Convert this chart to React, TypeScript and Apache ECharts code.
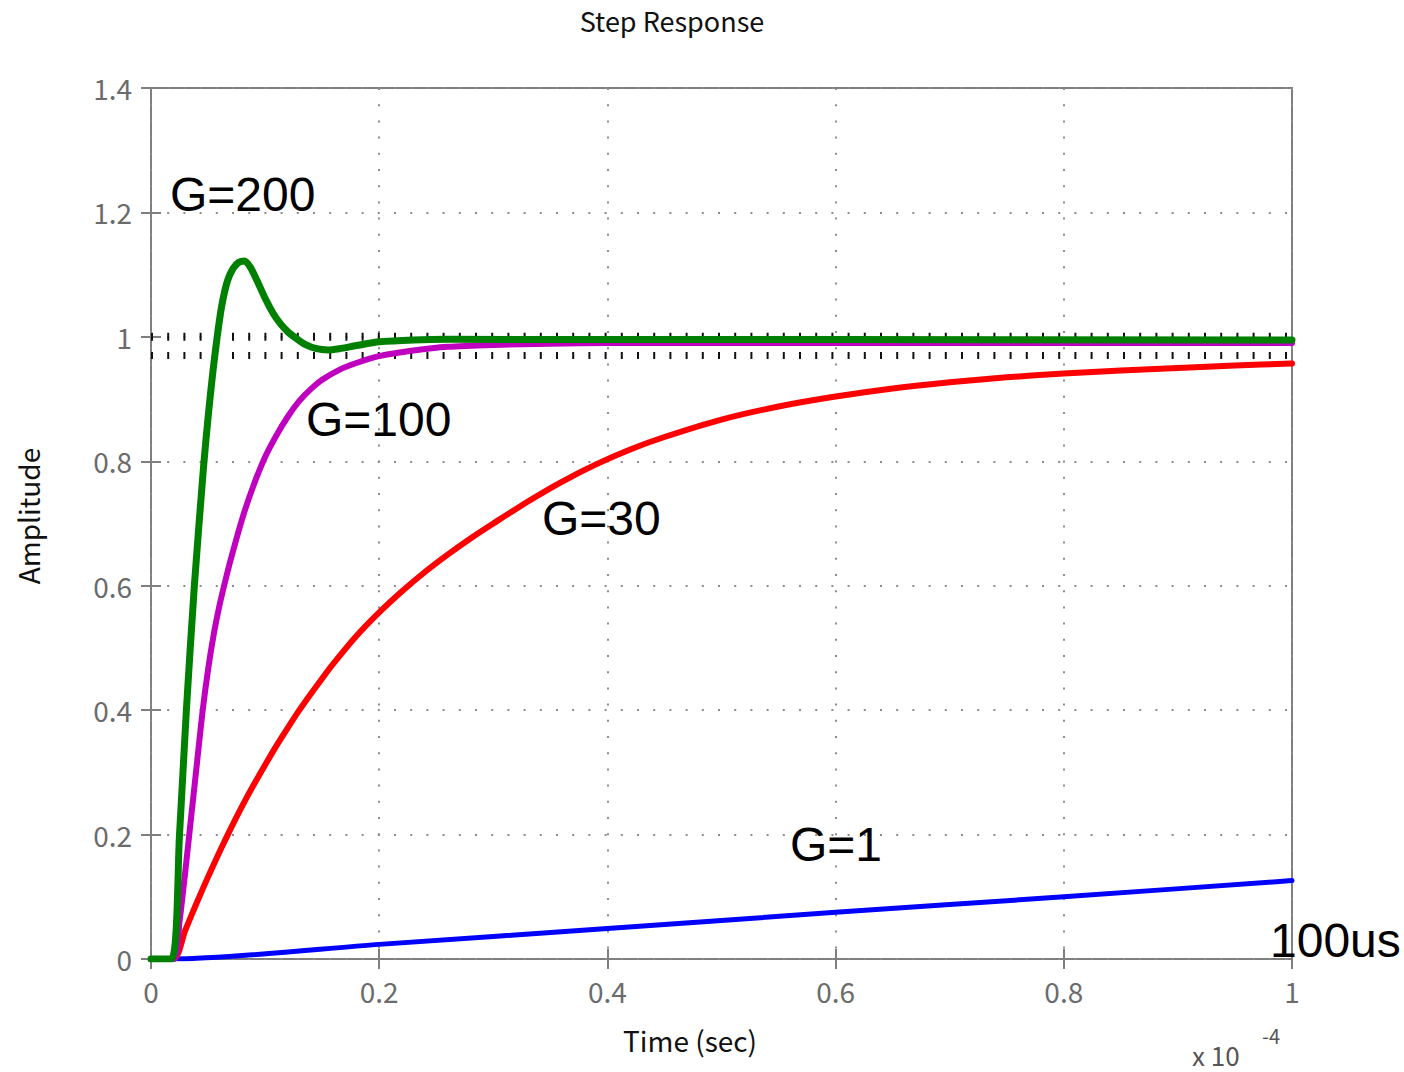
import React, { useEffect, useRef } from "react";
import * as echarts from "echarts";

// ---- data (time in units of 1e-4 s, amplitude) ----
const xTickValues = [0, 0.2, 0.4, 0.6, 0.8, 1];
const yTickValues = [0, 0.2, 0.4, 0.6, 0.8, 1, 1.2, 1.4];

const g1Time = [0, 0.02, 0.2, 0.4, 0.6, 0.8, 1.0];
const g1Amp = [0, 0, 0.0235, 0.049, 0.075, 0.1, 0.126];

const g30Time = [0, 0.02, 0.03, 0.04, 0.05, 0.06, 0.07, 0.08, 0.09, 0.1, 0.11, 0.12, 0.13, 0.14, 0.15, 0.16, 0.18, 0.2, 0.22, 0.24, 0.26, 0.28, 0.3, 0.33, 0.36, 0.39, 0.42, 0.45, 0.5, 0.55, 0.6, 0.65, 0.7, 0.75, 0.8, 0.85, 0.9, 0.95, 1.0];
const g30Amp = [0, 0, 0.046, 0.09, 0.132, 0.172, 0.21, 0.246, 0.28, 0.312, 0.343, 0.372, 0.4, 0.426, 0.451, 0.475, 0.519, 0.557, 0.591, 0.622, 0.65, 0.676, 0.7, 0.735, 0.767, 0.795, 0.819, 0.839, 0.867, 0.888, 0.904, 0.917, 0.927, 0.935, 0.941, 0.946, 0.95, 0.954, 0.957];

const g100Time = [0, 0.02, 0.025, 0.03, 0.035, 0.04, 0.045, 0.05, 0.055, 0.06, 0.065, 0.07, 0.08, 0.09, 0.1, 0.11, 0.12, 0.13, 0.14, 0.15, 0.165, 0.18, 0.2, 0.23, 0.26, 0.3, 0.35, 0.4, 1.0];
const g100Amp = [0, 0, 0.06, 0.14, 0.225, 0.31, 0.395, 0.465, 0.522, 0.568, 0.607, 0.643, 0.708, 0.762, 0.807, 0.842, 0.872, 0.897, 0.916, 0.931, 0.947, 0.958, 0.969, 0.978, 0.984, 0.987, 0.989, 0.99, 0.99];

const g200Time = [0, 0.018, 0.025, 0.031, 0.038, 0.046, 0.05, 0.054, 0.058, 0.062, 0.067, 0.072, 0.077, 0.082, 0.087, 0.093, 0.1, 0.107, 0.113, 0.12, 0.127, 0.135, 0.145, 0.155, 0.165, 0.18, 0.2, 0.23, 0.26, 1.0];
const g200Amp = [0, 0, 0.2, 0.4, 0.6, 0.79, 0.87, 0.94, 1.0, 1.05, 1.09, 1.11, 1.12, 1.122, 1.112, 1.09, 1.062, 1.038, 1.022, 1.008, 0.998, 0.988, 0.981, 0.979, 0.981, 0.986, 0.992, 0.995, 0.996, 0.995];

const boundLevels = [1.0, 0.97];
const boundTime = [0, 1];

const labels = ["G=200", "G=100", "G=30", "G=1", "100us"];

const zip = (a: number[], b: number[]) => a.map((v, i) => [v, b[i]]);

const CJK = "'Noto Sans CJK JP', 'Noto Sans', sans-serif";
const ARIAL = "'Liberation Sans', Arial, sans-serif";
const AXIS_GRAY = "#7f7f7f";
const LABEL_GRAY = "#6b6b6b";

export default function App() {
  const ref = useRef<HTMLDivElement>(null);

  useEffect(() => {
    if (!ref.current) return;
    const chart = echarts.init(ref.current, undefined, { renderer: "svg" });

    const tickStyle = {
      show: true,
      inside: true,
      length: 10,
      lineStyle: { color: AXIS_GRAY, width: 2 },
    };
    const gridDots = {
      show: true,
      lineStyle: { color: "#8c8c8c", width: 2, type: [2, 14.2] as any },
    };

    const curve = (name: string, t: number[], v: number[], color: string, width: number) => ({
      name,
      type: "line",
      data: zip(t, v),
      showSymbol: false,
      symbol: "none",
      silent: true,
      smooth: 0.25,
      lineStyle: { color, width, join: "round", cap: "round" },
    });

    const boundSeries = boundLevels.map((lvl, i) => ({
      name: "bound" + i,
      type: "line",
      data: boundTime.map((t) => [t, lvl]),
      showSymbol: false,
      symbol: "none",
      silent: true,
      lineStyle: { color: "#111", width: i === 0 ? 8 : 7, type: [2, 14.2] as any, cap: "butt" },
    }));

    const annotPos = [
      { x: 170, y: 194 },
      { x: 306, y: 419 },
      { x: 542, y: 518 },
      { x: 790, y: 844 },
      { x: 1270, y: 940 },
    ];

    chart.setOption({
      animation: false,
      backgroundColor: "#ffffff",
      grid: {
        left: 151,
        top: 88,
        width: 1141,
        height: 871,
        show: true,
        borderColor: AXIS_GRAY,
        borderWidth: 2,
        backgroundColor: "transparent",
      },
      xAxis: [
        {
          type: "value",
          min: 0,
          max: 1,
          interval: 0.2,
          position: "bottom",
          axisLine: { show: false },
          axisTick: tickStyle,
          splitLine: gridDots,
          axisLabel: {
            show: true,
            margin: 18,
            fontFamily: CJK,
            fontSize: 28,
            color: LABEL_GRAY,
            formatter: (v: number) => String(xTickValues.find((x) => Math.abs(x - v) < 1e-9) ?? v),
          },
        },
        {
          type: "value",
          min: 0,
          max: 1,
          interval: 0.2,
          position: "top",
          axisLine: { show: false },
          axisTick: tickStyle,
          splitLine: { show: false },
          axisLabel: { show: false },
        },
      ],
      yAxis: [
        {
          type: "value",
          min: 0,
          max: 1.4,
          interval: 0.2,
          position: "left",
          axisLine: { show: false },
          axisTick: tickStyle,
          splitLine: gridDots,
          axisLabel: {
            show: true,
            margin: 19,
            fontFamily: CJK,
            fontSize: 28,
            color: LABEL_GRAY,
            formatter: (v: number) => String(yTickValues.find((y) => Math.abs(y - v) < 1e-9) ?? v),
          },
        },
        {
          type: "value",
          min: 0,
          max: 1.4,
          interval: 0.2,
          position: "right",
          axisLine: { show: false },
          axisTick: tickStyle,
          splitLine: { show: false },
          axisLabel: { show: false },
        },
      ],
      series: [
        ...boundSeries,
        curve("G=1", g1Time, g1Amp, "#0000ff", 5),
        curve("G=30", g30Time, g30Amp, "#ff0000", 6),
        curve("G=100", g100Time, g100Amp, "#bf00bf", 6),
        curve("G=200", g200Time, g200Amp, "#008000", 7),
      ],
      graphic: [
        {
          type: "text",
          x: 672,
          y: 20,
          style: { text: "Step Response", fontFamily: CJK, fontSize: 27, fill: "#111", textAlign: "center", verticalAlign: "middle", textVerticalAlign: "middle" },
        },
        {
          type: "text",
          x: 690,
          y: 1040,
          style: { text: "Time (sec)", fontFamily: CJK, fontSize: 28, fill: "#111", textAlign: "center", verticalAlign: "middle", textVerticalAlign: "middle" },
        },
        {
          type: "text",
          x: 28,
          y: 516,
          rotation: Math.PI / 2,
          style: { text: "Amplitude", fontFamily: CJK, fontSize: 28, fill: "#111", textAlign: "center", verticalAlign: "middle", textVerticalAlign: "middle" },
        },
        {
          type: "text",
          x: 1192,
          y: 1054,
          style: { text: "x 10", fontFamily: CJK, fontSize: 26, fill: "#555", textAlign: "left", verticalAlign: "middle", textVerticalAlign: "middle" },
        },
        {
          type: "text",
          x: 1262,
          y: 1035,
          style: { text: "-4", fontFamily: CJK, fontSize: 20, fill: "#555", textAlign: "left", verticalAlign: "middle", textVerticalAlign: "middle" },
        },
        ...labels.map((text, i) => ({
          type: "text",
          x: annotPos[i].x,
          y: annotPos[i].y,
          z: 100,
          style: { text, fontFamily: ARIAL, fontSize: 48, fill: "#000", textAlign: "left", verticalAlign: "middle", textVerticalAlign: "middle" },
        })),
      ],
    });

    return () => chart.dispose();
  }, []);

  return (
    <div
      ref={ref}
      style={{ position: "fixed", left: 0, top: 0, width: "1404px", height: "1072px", background: "#fff" }}
    />
  );
}
